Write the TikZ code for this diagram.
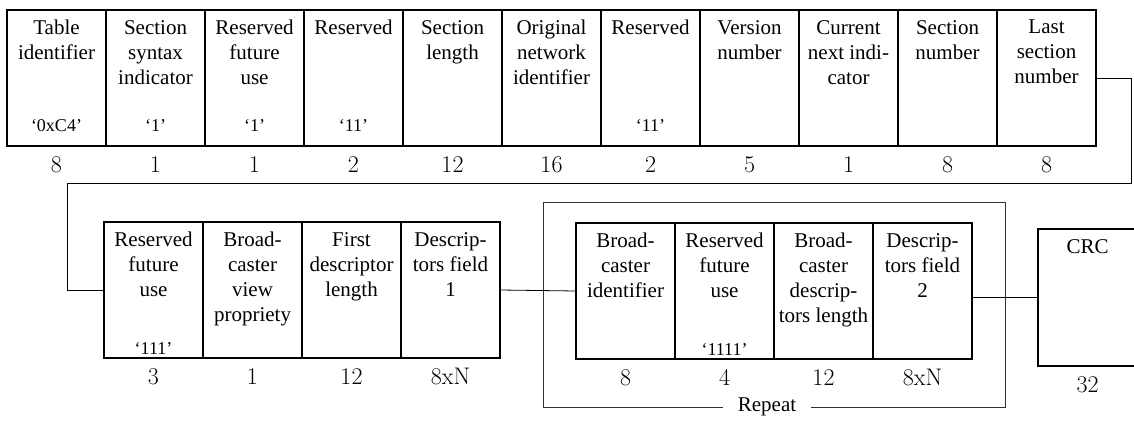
\documentclass[tikz,border=0pt]{standalone}
\usepackage{fontspec}
\usepackage{tikz}
\usetikzlibrary{positioning, calc}

\newfontfamily\txtfont{Liberation Serif}

\begin{document}
\begin{tikzpicture}[
    fld/.style={rectangle, draw, line width=1.6pt, minimum width=99pt, minimum height=136pt, inner sep=0pt, outer sep=0pt},
    ftxt/.style={anchor=north, align=center, inner sep=0pt, yshift=-10pt, font=\txtfont\fontsize{21}{25}\selectfont},
    vtxt/.style={anchor=base, inner sep=0pt, yshift=15pt, font=\txtfont\fontsize{18}{20}\selectfont},
    btxt/.style={anchor=north, inner sep=0pt, yshift=-10pt, font=\fontsize{24}{28}\selectfont},
    txt/.style={label={[ftxt]north:{#1}}},
    val/.style={label={[vtxt]south:{#1}}},
    lowval/.style={label={[vtxt, yshift=-11pt]south:{#1}}},
    bits/.style={label={[btxt]south:{#1}}},
    conn/.style={line width=0.8pt},
    rep/.style={line width=0.8pt, black!80}
]
\useasboundingbox (0,0) rectangle (1134pt,-420pt);

% Header fields
\node[fld, anchor=north west, txt={Table\\identifier}, val={‘0xC4’}, bits=8] (f1) at (7pt,-10pt) {};
\node[fld, right=0pt of f1, txt={Section\\syntax\\indicator}, val={‘1’}, bits=1] (f2) {};
\node[fld, right=0pt of f2, txt={Reserved\\future\\use}, val={‘1’}, bits=1] (f3) {};
\node[fld, right=0pt of f3, txt={Reserved}, val={‘11’}, bits=2] (f4) {};
\node[fld, right=0pt of f4, txt={Section\\length}, bits=12] (f5) {};
\node[fld, right=0pt of f5, txt={Original\\network\\identifier}, bits=16] (f6) {};
\node[fld, right=0pt of f6, txt={Reserved}, val={‘11’}, bits=2] (f7) {};
\node[fld, right=0pt of f7, txt={Version\\number}, bits=5] (f8) {};
\node[fld, right=0pt of f8, txt={Current\\next indi-\\cator}, bits=1] (f9) {};
\node[fld, right=0pt of f9, txt={Section\\number}, bits=8] (f10) {};
\node[fld, right=0pt of f10, txt={Last\\section\\number}, bits=8] (f11) {};

% Second row
\node[fld, anchor=north west, txt={Reserved\\future\\use}, lowval={‘111’}, bits=3] (g1) at (104pt,-222pt) {};
\node[fld, right=0pt of g1, txt={Broad-\\caster\\view\\propriety}, bits=1] (g2) {};
\node[fld, right=0pt of g2, txt={First\\descriptor\\length}, bits=12] (g3) {};
\node[fld, right=0pt of g3, txt={Descrip-\\tors field\\1}, bits=8xN] (g4) {};

% Repeated loop
\node[fld, anchor=north west, txt={Broad-\\caster\\identifier}, bits=8] (h1) at (576pt,-223pt) {};
\node[fld, right=0pt of h1, txt={Reserved\\future\\use}, lowval={‘1111’}, bits=4] (h2) {};
\node[fld, right=0pt of h2, txt={Broad-\\caster\\descrip-\\tors length}, bits=12] (h3) {};
\node[fld, right=0pt of h3, txt={Descrip-\\tors field\\2}, bits=8xN] (h4) {};

% CRC
\node[fld, anchor=north west, minimum height=137pt, txt={CRC}, bits=32] (crc) at (1038pt,-229pt) {};

% Repeat frame
\coordinate (repNW) at ($(h1.north west)+(-33pt,21pt)$);
\coordinate (repSE) at ($(h4.south east)+(33pt,-48pt)$);
\draw[rep] (repNW) rectangle (repSE);
\path (repNW |- repSE) -- (repSE) node[midway, xshift=-7pt, fill=white, inner xsep=15pt, inner ysep=2pt, font=\txtfont\fontsize{21}{25}\selectfont] (replbl) {Repeat};

% Connectors
\coordinate (turnA) at (1131pt,-183pt);
\coordinate (turnB) at (67pt,-183pt);
\draw[conn] (f11.east) -| (turnA) -- (turnB) |- (g1.west);
\draw[conn] (g4.east) -- (h1.west);
\draw[conn] (h4.east |- crc.west) -- (crc.west);

\end{tikzpicture}
\end{document}
